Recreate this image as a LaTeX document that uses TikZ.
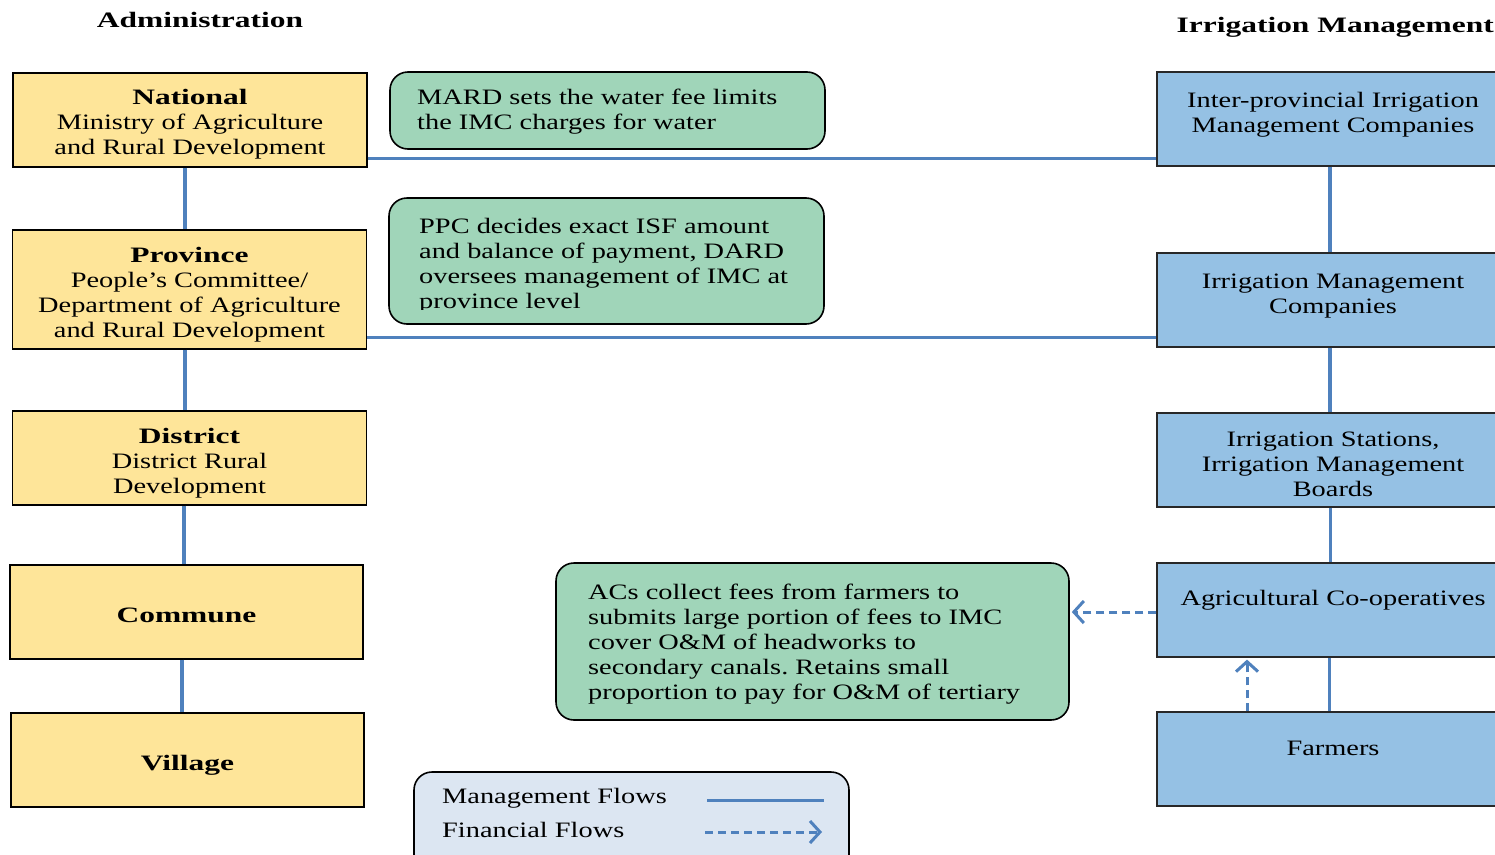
\documentclass[tikz,border=0pt]{standalone}
\usepackage{fontspec}
\setmainfont{Liberation Serif}[FakeStretch=1.29,BoldFeatures={FakeStretch=1.43}]
\usetikzlibrary{arrows.meta}
\frenchspacing
\definecolor{yel}{RGB}{254,229,153}
\definecolor{grn}{RGB}{160,213,185}
\definecolor{blu}{RGB}{149,193,228}
\definecolor{lineblue}{RGB}{79,129,189}
\definecolor{legfill}{RGB}{220,230,242}
\definecolor{bordergray}{RGB}{40,40,40}
\tikzset{
  txt/.style={font=\fontsize{22}{25}\selectfont, inner sep=0pt},
  ybox/.style={draw=black, line width=1.2pt, fill=yel,
     minimum width=354pt, minimum height=94pt, inner sep=0pt},
  bbox/.style={draw=bordergray, line width=1.2pt, fill=blu,
     minimum width=343pt, minimum height=94pt, inner sep=0pt},
  gbox/.style={draw=black, line width=1.6pt, fill=grn, rounded corners=18pt, inner sep=0pt},
  mgmt/.style={draw=lineblue, line width=3.6pt},
  fin/.style={draw=lineblue, line width=3pt, dash pattern=on 8pt off 5pt,
     -{Straight Barb[length=10pt,width=22pt]}},
}
\begin{document}
\begin{tikzpicture}[x=1pt,y=-1pt]
\clip (0,0) rectangle (1495,854);
\fill[white] (0,0) rectangle (1495,854);

% titles
\node[txt, font=\fontsize{22}{25}\selectfont\bfseries] (tadm) at (200,20) {Administration};
\node[txt, font=\fontsize{22}{25}\selectfont\bfseries, anchor=east] (tirr) at (1494,27) {Irrigation Management};

% administration column
\node[ybox] (nat) at (190,120) {};
\node[ybox, minimum height=119pt] (prov) at (189.5,289.5) {};
\node[ybox] (dist) at (189.5,458) {};
\node[ybox, minimum width=353pt] (com) at (186.5,612) {};
\node[ybox, minimum width=353pt] (vil) at (187.5,760) {};
\node[txt, align=center] (nat-t) at (190,124.5) {\textbf{National}\\Ministry of Agriculture\\and Rural Development};
\node[txt, align=center] (prov-t) at (189.5,294.5) {\textbf{Province}\\People’s Committee/\\Department of Agriculture\\and Rural Development};
\node[txt, align=center] (dist-t) at (189.5,463) {\textbf{District}\\District Rural\\Development};
\node[txt] (com-t) at (186.5,615) {\textbf{Commune}};
\node[txt] (vil-t) at (187.5,765) {\textbf{Village}};

% irrigation column boxes
\node[bbox] (ipimc) at (1328.5,119) {};
\node[bbox] (imc) at (1328.5,300) {};
\node[bbox] (ist) at (1328.5,460) {};
\node[bbox] (ac) at (1328.5,610) {};
\node[bbox] (farm) at (1328.5,759) {};
\node[txt, align=center] (ipimc-t) at (1333,115) {Inter-provincial Irrigation\\Management Companies};
\node[txt, align=center] (imc-t) at (1333,296) {Irrigation Management\\Companies};
\node[txt, align=center] (ist-t) at (1333,464) {Irrigation Stations,\\Irrigation Management\\Boards};
\node[txt] (ac-t) at (1333,600) {Agricultural Co-operatives};
\node[txt] (farm-t) at (1333,748) {Farmers};

% green notes
\node[gbox, minimum width=435pt, minimum height=77pt] (g1) at (607.5,110.5) {};
\node[gbox, minimum width=435pt, minimum height=126pt] (g2) at (606.5,261) {};
\node[gbox, minimum width=513pt, minimum height=157pt] (g3) at (812.5,641.5) {};
\node[txt, align=left, anchor=west] (g1-t) at (417,112) {MARD sets the water fee limits\\the IMC charges for water};
\begin{scope}
\clip (400,200) rectangle (820,309);
\node[txt, align=left, anchor=west] (g2-t) at (419,266) {PPC decides exact ISF amount\\and balance of payment, DARD\\oversees management of IMC at\\province level};
\end{scope}
\node[txt, align=left, anchor=west] (g3-t) at (588,644.5) {ACs collect fees from farmers to\\submits large portion of fees to IMC\\cover O\&M of headworks to\\secondary canals. Retains small\\proportion to pay for O\&M of tertiary};

% management connectors (left)
\draw[mgmt] ([xshift=-5pt]nat.south) -- ([xshift=-5pt]nat.south |- prov.north);
\draw[mgmt] ([xshift=-4.5pt]prov.south) -- ([xshift=-4.5pt]prov.south |- dist.north);
\draw[mgmt] ([xshift=-5.5pt]dist.south) -- ([xshift=-5.5pt]dist.south |- com.north);
\draw[mgmt] ([xshift=-4.5pt]com.south) -- ([xshift=-4.5pt]com.south |- vil.north);

% management connectors (right)
\draw[mgmt] ([xshift=1.5pt]ipimc.south) -- ([xshift=1.5pt]imc.north);
\draw[mgmt] ([xshift=1.5pt]imc.south) -- ([xshift=1.5pt]ist.north);
\draw[mgmt] ([xshift=2pt]ist.south) -- ([xshift=2pt]ac.north);
\draw[mgmt] ([xshift=1pt]ac.south) -- ([xshift=1pt]farm.north);

% horizontal management lines
\draw[mgmt, line width=3pt] ([yshift=-38pt]nat.east) -- ([yshift=-38pt]nat.east -| ipimc.west);
\draw[mgmt, line width=3pt] ([yshift=-47.5pt]prov.east) -- ([yshift=-47.5pt]prov.east -| imc.west);

% financial flows
\draw[fin] ([yshift=-2pt]ac.west) -- ([yshift=-2pt,xshift=2pt]ac.west -| g3.east);
\draw[fin] ([xshift=-81.5pt]farm.north) -- ([xshift=-81.5pt,yshift=-2pt]ac.south);

% legend
\node[draw=black, line width=1.6pt, fill=legfill, rounded corners=18pt,
      minimum width=435pt, minimum height=110pt, inner sep=0pt] (leg) at (631.5,827) {};
\node[txt, anchor=west] (leg-m) at (442,798) {Management Flows};
\node[txt, anchor=west] (leg-f) at (442,830) {Financial Flows};
\coordinate (lm1) at (707,800);
\coordinate (lm2) at (824,800);
\coordinate (lf1) at (705,832);
\coordinate (lf2) at (822,832);
\draw[mgmt, line width=3pt] (lm1) -- (lm2);
\draw[fin] (lf1) -- (lf2);
\end{tikzpicture}
\end{document}
